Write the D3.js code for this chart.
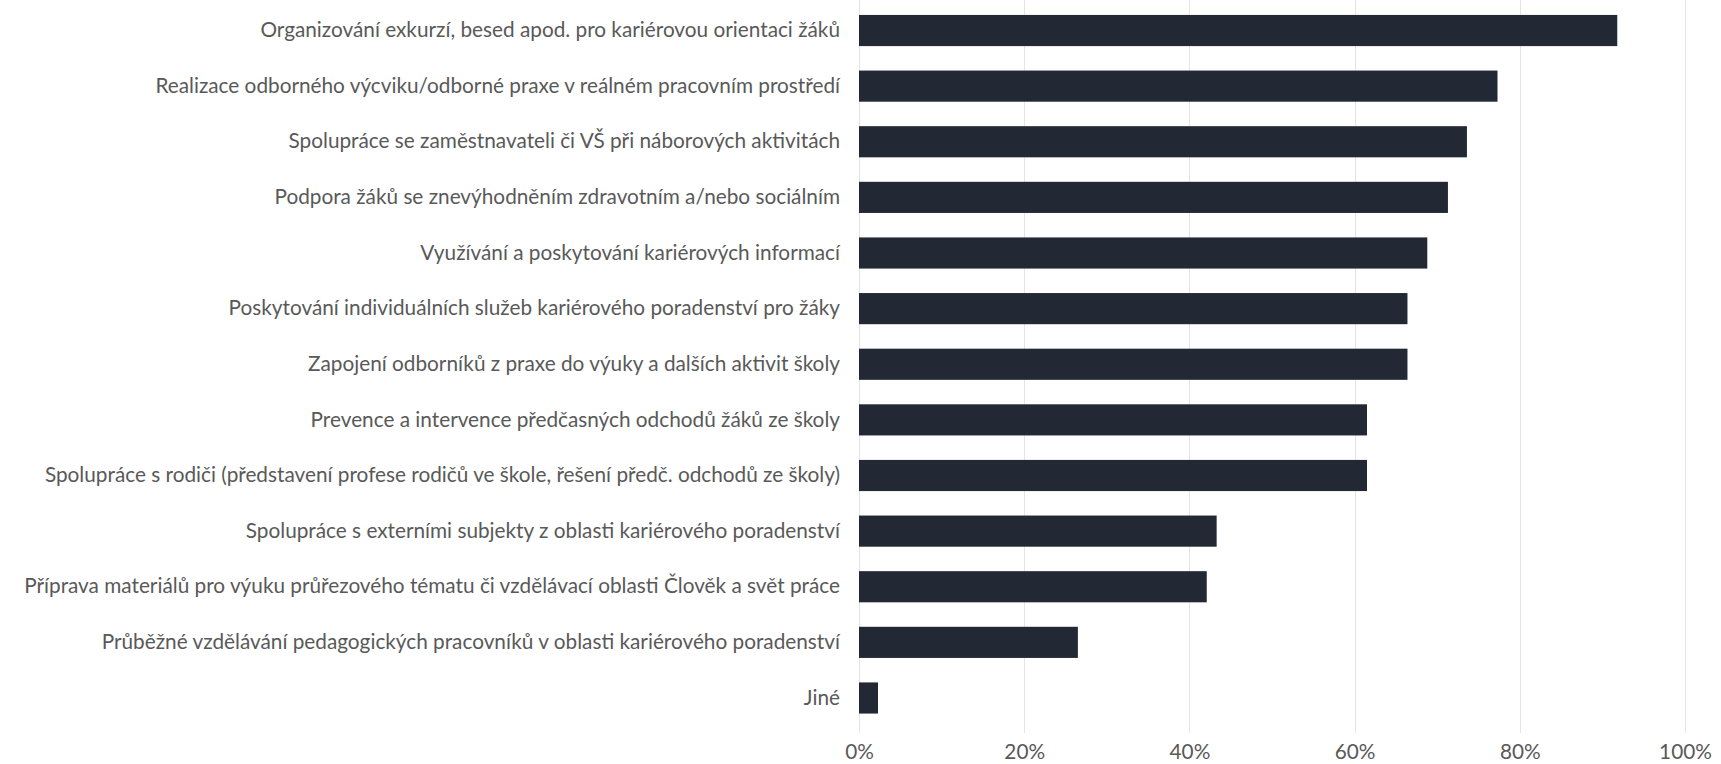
<!DOCTYPE html>
<html>
<head>
<meta charset="utf-8">
<script src="https://cdn.jsdelivr.net/npm/d3@7/dist/d3.min.js"></script>
<style>
  html, body { margin: 0; padding: 0; background: #ffffff; }
  svg { display: block; }
</style>
</head>
<body>
<svg id="chart" width="1721" height="764"></svg>
<script>
const categories = [
  "Organizování exkurzí, besed apod. pro kariérovou orientaci žáků",
  "Realizace odborného výcviku/odborné praxe v reálném pracovním prostředí",
  "Spolupráce se zaměstnavateli či VŠ při náborových aktivitách",
  "Podpora žáků se znevýhodněním zdravotním a/nebo sociálním",
  "Využívání a poskytování kariérových informací",
  "Poskytování individuálních služeb kariérového poradenství pro žáky",
  "Zapojení odborníků z praxe do výuky a dalších aktivit školy ",
  "Prevence a intervence předčasných odchodů žáků ze školy",
  "Spolupráce s rodiči (představení profese rodičů ve škole, řešení předč. odchodů ze školy)",
  "Spolupráce s externími subjekty z oblasti kariérového poradenství",
  "Příprava materiálů pro výuku průřezového tématu či vzdělávací oblasti Člověk a svět práce",
  "Průběžné vzdělávání pedagogických pracovníků v oblasti kariérového poradenství",
  "Jiné"
];
const values = [0.918, 0.773, 0.736, 0.713, 0.688, 0.664, 0.664, 0.615, 0.615, 0.433, 0.421, 0.265, 0.023];
const tickValues = [0, 0.2, 0.4, 0.6, 0.8, 1.0];
const tickLabels = ["0%", "20%", "40%", "60%", "80%", "100%"];

const svg = d3.select("#chart");
const fontFamily = "Lato, 'Open Sans', sans-serif";
const textColor = "#595959";

const x = d3.scaleLinear().domain([0, 1]).range([859, 1685]);
const y = d3.scaleBand().domain(categories).range([2.7, 725.8]).paddingInner(0.44).paddingOuter(0.22);

// gridlines
svg.append("g").selectAll("line")
  .data(tickValues)
  .join("line")
  .attr("x1", d => Math.round(x(d)) + 0.5)
  .attr("x2", d => Math.round(x(d)) + 0.5)
  .attr("y1", 0)
  .attr("y2", 733)
  .attr("stroke", "#e4e4e4")
  .attr("stroke-width", 1);

// bars
svg.append("g").selectAll("rect")
  .data(values)
  .join("rect")
  .attr("x", x(0))
  .attr("y", (d, i) => y(categories[i]))
  .attr("width", d => x(d) - x(0))
  .attr("height", y.bandwidth())
  .attr("fill", "#232934");

// category labels (y axis)
const yAxis = d3.axisLeft(y).tickSize(0).tickPadding(0);
const yG = svg.append("g").attr("transform", `translate(${x(0) - 19},0)`).call(yAxis);
yG.select(".domain").remove();
yG.selectAll("text")
  .attr("fill", textColor)
  .attr("font-family", fontFamily)
  .attr("font-size", 17);

// fit font size so the longest label spans the same width as the reference
let maxW = 0;
yG.selectAll("text").each(function() { maxW = Math.max(maxW, this.getComputedTextLength()); });
const fitted = 17 * 816 / maxW;
yG.selectAll("text").attr("font-size", fitted.toFixed(2));

// x axis labels
const xAxis = d3.axisBottom(x).tickValues(tickValues).tickFormat((d, i) => tickLabels[i]).tickSize(0).tickPadding(0);
const xG = svg.append("g").attr("transform", "translate(0,744)").call(xAxis);
xG.select(".domain").remove();
xG.selectAll("text")
  .attr("fill", textColor)
  .attr("font-family", fontFamily)
  .attr("font-size", fitted.toFixed(2));
</script>
</body>
</html>
